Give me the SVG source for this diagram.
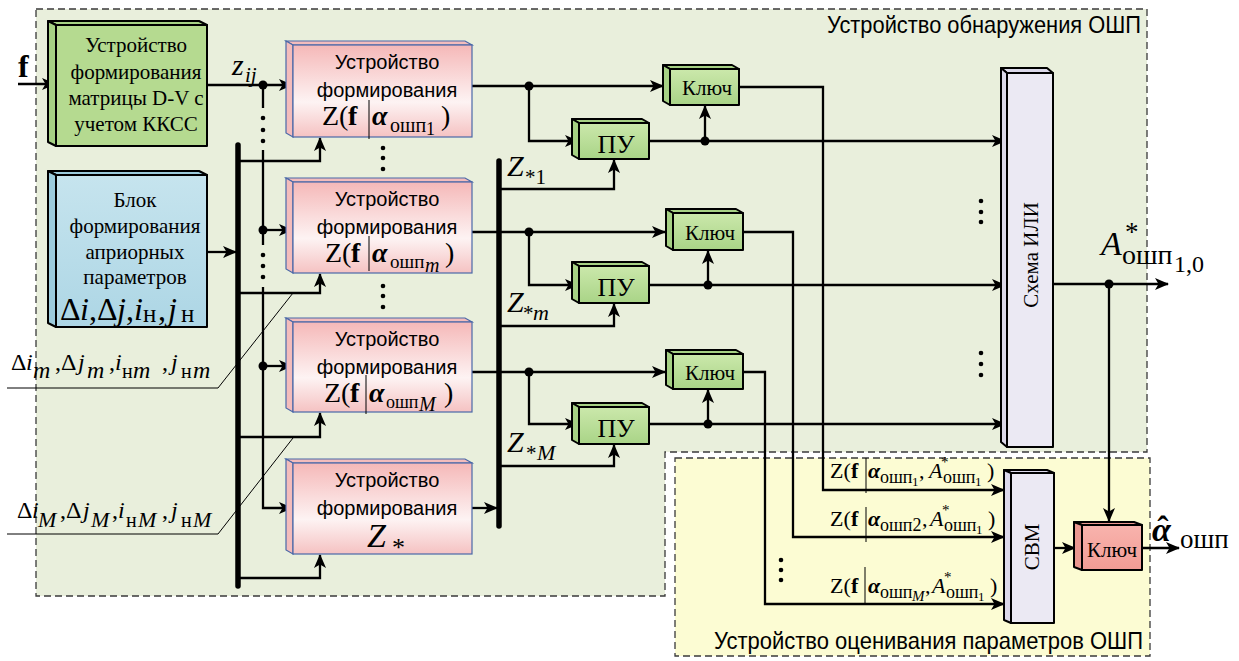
<svg xmlns="http://www.w3.org/2000/svg" width="1239" height="661" viewBox="0 0 1239 661">
<defs>
<style>
.s{font-family:"Liberation Serif","Times New Roman",serif;fill:#000}
.a{font-family:"Liberation Sans",Arial,sans-serif;fill:#000}
.i{font-style:italic}
.b{font-weight:bold}
.ln{stroke:#000;stroke-width:2.3;fill:none}
.ar{marker-end:url(#ah)}
.bus{stroke:#000;stroke-width:5.5;stroke-linecap:round;fill:none}
.th{stroke:#000;stroke-width:1;fill:none}
.bar{stroke:#000;stroke-width:1}
.dsh{stroke:#3a3a3a;stroke-width:1.3;stroke-dasharray:7 4}
.pk rect,.pk polygon{stroke:#4a68a8;stroke-width:1.2}
.pk rect{fill:url(#gPink)}
.pk polygon{fill:#f3bcbc}
.gk rect,.gk polygon,.bk rect,.bk polygon,.lv rect,.lv polygon,.rk rect,.rk polygon{stroke:#000;stroke-width:2;stroke-linejoin:round}
.gk rect{fill:url(#gGreen)}
.gk polygon{fill:#a6d184}
.bk rect{fill:url(#gBlue)}
.bk polygon{fill:#9ccbdc}
.lv rect{fill:#ebe9f3}
.lv polygon{fill:#dcd9ea}
.rk rect{fill:url(#gRed)}
.rk polygon{fill:#ea9790}
.jd{fill:#000}
.sd{fill:#000}
</style>
<linearGradient id="gPink" x1="0" y1="0" x2="0" y2="1"><stop offset="0" stop-color="#f5b8b8"/><stop offset="0.62" stop-color="#fdf3f3"/><stop offset="1" stop-color="#f5c2c2"/></linearGradient>
<linearGradient id="gGreen" x1="0" y1="0" x2="0" y2="1"><stop offset="0" stop-color="#cbe8ab"/><stop offset="1" stop-color="#a9d487"/></linearGradient>
<linearGradient id="gBlue" x1="0" y1="0" x2="0" y2="1"><stop offset="0" stop-color="#c6e4ee"/><stop offset="1" stop-color="#add6e5"/></linearGradient>
<linearGradient id="gRed" x1="0" y1="0" x2="0" y2="1"><stop offset="0" stop-color="#f8b3ad"/><stop offset="1" stop-color="#f29c95"/></linearGradient>
<marker id="ah" viewBox="0 0 14 12" refX="13" refY="6" markerWidth="14" markerHeight="12" orient="auto" markerUnits="userSpaceOnUse"><path d="M0,0 L14,6 L0,12 L3.5,6 z" fill="#000"/></marker>
</defs>

<rect width="1239" height="661" fill="#fff"/>

<g id="regions">
<polygon class="dsh" points="36,9 1147,9 1147,452 665,452 665,596 36,596" fill="#e9efdc"/>
<rect class="dsh" x="675" y="458" width="475" height="198" fill="#fcfcd3"/>
<text class="a" x="1141" y="33" font-size="24" text-anchor="end" textLength="314" lengthAdjust="spacingAndGlyphs">Устройство обнаружения ОШП</text>
<text class="a" x="1143" y="649" font-size="24" text-anchor="end" textLength="429" lengthAdjust="spacingAndGlyphs">Устройство оценивания параметров ОШП</text>
</g>

<g id="connectors">
<path class="ln ar" d="M18,84 H55"/>
<path class="ln ar" d="M207,85 H292"/>
<path class="ln" d="M263,85 V108 M263,150 V245"/>
<path class="ln ar" d="M263,230 H292"/>
<path class="ln ar" d="M263,366 H292"/>
<path class="ln ar" d="M263,287 V508 H292"/>
<path class="ln ar" d="M207,252 H236"/>
<path class="bus" d="M238,145 V586"/>
<path class="ln ar" d="M238,161 H320 V138"/>
<path class="ln ar" d="M238,293 H320 V274"/>
<path class="ln ar" d="M238,437 H320 V413"/>
<path class="ln ar" d="M238,578 H320 V555"/>
<path class="ln ar" d="M472,508 H497"/>
<path class="bus" d="M499,161 V526"/>
<path class="ln ar" d="M499,189 H614 V160"/>
<path class="ln ar" d="M499,326 H614 V304"/>
<path class="ln ar" d="M499,466 H614 V445"/>
<path class="ln ar" d="M472,86 H663"/>
<path class="ln ar" d="M472,232 H665"/>
<path class="ln ar" d="M472,372 H665"/>
<path class="ln ar" d="M529,86 V141 H578"/>
<path class="ln ar" d="M529,232 V285 H578"/>
<path class="ln ar" d="M529,372 V424 H578"/>
<path class="ln ar" d="M649,141 H1005"/>
<path class="ln ar" d="M649,285 H1005"/>
<path class="ln ar" d="M649,424 H1005"/>
<path class="ln ar" d="M705,141 V106"/>
<path class="ln ar" d="M708,285 V251"/>
<path class="ln ar" d="M708,424 V390"/>
<path class="ln ar" d="M739,87 H823 V490 H1004"/>
<path class="ln ar" d="M743,232 H793 V537 H1004"/>
<path class="ln ar" d="M743,372 H765 V604 H1004"/>
<path class="ln ar" d="M1053,284 H1168"/>
<path class="ln ar" d="M1109,284 V521"/>
<path class="ln ar" d="M1054,548 H1075"/>
<path class="ln ar" d="M1142,548 H1179"/>
<path class="th" d="M7,388 H218 L293,293"/>
<path class="th" d="M7,534 H218 L293,438"/>
<circle class="jd" cx="263" cy="85" r="4.5"/>
<circle class="jd" cx="263" cy="230" r="4.5"/>
<circle class="jd" cx="263" cy="366" r="4.5"/>
<circle class="jd" cx="529" cy="86" r="4.5"/>
<circle class="jd" cx="529" cy="232" r="4.5"/>
<circle class="jd" cx="529" cy="372" r="4.5"/>
<circle class="jd" cx="705" cy="141" r="4.5"/>
<circle class="jd" cx="708" cy="285" r="4.5"/>
<circle class="jd" cx="708" cy="424" r="4.5"/>
<circle class="jd" cx="1109" cy="284" r="4.5"/>
<g class="sd">
<circle cx="263" cy="118" r="2.3"/><circle cx="263" cy="130" r="2.3"/><circle cx="263" cy="141" r="2.3"/>
<circle cx="263" cy="255" r="2.3"/><circle cx="263" cy="266" r="2.3"/><circle cx="263" cy="277" r="2.3"/>
<circle cx="383" cy="148" r="2.3"/><circle cx="383" cy="158" r="2.3"/><circle cx="383" cy="169" r="2.3"/>
<circle cx="383" cy="286" r="2.3"/><circle cx="383" cy="296" r="2.3"/><circle cx="383" cy="307" r="2.3"/>
<circle cx="981" cy="201" r="2.3"/><circle cx="981" cy="212" r="2.3"/><circle cx="981" cy="222" r="2.3"/>
<circle cx="981" cy="353" r="2.3"/><circle cx="981" cy="364" r="2.3"/><circle cx="981" cy="375" r="2.3"/>
<circle cx="781" cy="560" r="2.3"/><circle cx="781" cy="570" r="2.3"/><circle cx="781" cy="580" r="2.3"/>
</g>
</g>

<g id="labels">
<text class="s b" x="18" y="77" font-size="32">f</text>
<text class="s i"><tspan x="232" y="75" font-size="30">z</tspan><tspan x="245" y="82" font-size="21">ij</tspan></text>
<text class="s i"><tspan x="507" y="176" font-size="30">Z</tspan><tspan x="525" y="184" font-size="21" font-style="normal">*1</tspan></text>
<text class="s i"><tspan x="507" y="312" font-size="30">Z</tspan><tspan x="523" y="320" font-size="21" font-style="normal">*</tspan><tspan x="533" y="320" font-size="22">m</tspan></text>
<text class="s i"><tspan x="507" y="452" font-size="30">Z</tspan><tspan x="526" y="460" font-size="21" font-style="normal">*</tspan><tspan x="537" y="460" font-size="22">M</tspan></text>
<text class="s" font-size="24"><tspan x="11" y="370">Δ</tspan><tspan x="26" class="i">i</tspan><tspan x="33" y="378" class="i" font-size="24">m</tspan><tspan x="55" y="370">,Δ</tspan><tspan x="78" class="i">j</tspan><tspan x="87" y="378" class="i" font-size="24">m</tspan><tspan x="109" y="370">,</tspan><tspan x="115" class="i">i</tspan><tspan x="122" y="378" font-size="20">н</tspan><tspan x="133" y="378" class="i" font-size="24">m</tspan><tspan x="162" y="370">,</tspan><tspan x="171" class="i">j</tspan><tspan x="181" y="378" font-size="20">н</tspan><tspan x="193" y="378" class="i" font-size="24">m</tspan></text>
<text class="s" font-size="24"><tspan x="17" y="518">Δ</tspan><tspan x="32" class="i">i</tspan><tspan x="38" y="527" class="i" font-size="22">M</tspan><tspan x="60" y="518">,Δ</tspan><tspan x="83" class="i">j</tspan><tspan x="91" y="527" class="i" font-size="22">M</tspan><tspan x="112" y="518">,</tspan><tspan x="118" class="i">i</tspan><tspan x="126" y="527" font-size="20">н</tspan><tspan x="138" y="527" class="i" font-size="22">M</tspan><tspan x="162" y="518">,</tspan><tspan x="171" class="i">j</tspan><tspan x="181" y="527" font-size="20">н</tspan><tspan x="193" y="527" class="i" font-size="22">M</tspan></text>
<text class="s" font-size="34"><tspan x="1101" y="255" class="i">A</tspan><tspan x="1125" y="241" font-size="27">*</tspan><tspan x="1122" y="264" font-size="28">ошп</tspan><tspan x="1174" y="272" font-size="24">1,0</tspan></text>
<text class="s b" x="1163" y="540" font-size="34" text-anchor="middle">ˆ</text>
<text class="s" font-size="34"><tspan x="1152" y="541" class="b i">α</tspan><tspan x="1180" y="548" font-size="27">ошп</tspan></text>
<g id="zlabels">
<text class="s" font-size="22"><tspan x="830" y="478">Z(</tspan><tspan x="851" class="b">f</tspan><tspan x="868" class="b i">α</tspan><tspan x="880" y="483" font-size="18">ошп</tspan><tspan x="912" y="486" font-size="13">1</tspan><tspan x="919" y="478">,</tspan><tspan x="929" class="i">A</tspan><tspan x="941" y="467" font-size="15">*</tspan><tspan x="943" y="483" font-size="18">ошп</tspan><tspan x="975" y="486" font-size="13">1</tspan><tspan x="987" y="478">)</tspan></text>
<line class="bar" x1="866" y1="458" x2="866" y2="493"/>
<text class="s" font-size="22"><tspan x="830" y="526">Z(</tspan><tspan x="851" class="b">f</tspan><tspan x="868" class="b i">α</tspan><tspan x="880" y="531" font-size="18">ошп2</tspan><tspan x="922" y="526">,</tspan><tspan x="930" class="i">A</tspan><tspan x="942" y="515" font-size="15">*</tspan><tspan x="944" y="531" font-size="18">ошп</tspan><tspan x="976" y="534" font-size="13">1</tspan><tspan x="988" y="526">)</tspan></text>
<line class="bar" x1="866" y1="507" x2="866" y2="542"/>
<text class="s" font-size="22"><tspan x="830" y="593">Z(</tspan><tspan x="851" class="b">f</tspan><tspan x="868" class="b i">α</tspan><tspan x="880" y="598" font-size="18">ошп</tspan><tspan x="912" y="601" class="i" font-size="15">M</tspan><tspan x="925" y="593">,</tspan><tspan x="932" class="i">A</tspan><tspan x="944" y="582" font-size="15">*</tspan><tspan x="946" y="598" font-size="18">ошп</tspan><tspan x="978" y="601" font-size="13">1</tspan><tspan x="990" y="593">)</tspan></text>
<line class="bar" x1="865" y1="567" x2="865" y2="605"/>
</g>
</g>

<g id="node-matrix" class="gk">
<polygon points="48,21 199,21 207,25 56,25"/><polygon points="48,21 56,25 56,146 48,142"/>
<rect x="56" y="25" width="151" height="121" style="fill:#b5da90"/>
<text class="s" font-size="21" text-anchor="middle"><tspan x="136" y="52">Устройство</tspan><tspan x="136" y="79">формирования</tspan><tspan x="136" y="105">матрицы D-V с</tspan><tspan x="136" y="131">учетом ККСС</tspan></text>
</g>

<g id="node-apriori" class="bk">
<polygon points="48,171 199,171 207,175 56,175"/><polygon points="48,171 56,175 56,327 48,323"/>
<rect x="56" y="175" width="151" height="152"/>
<text class="s" font-size="21" text-anchor="middle"><tspan x="135" y="207">Блок</tspan><tspan x="135" y="233">формирования</tspan><tspan x="135" y="259">априорных</tspan><tspan x="135" y="284">параметров</tspan></text>
<text class="s" font-size="32"><tspan x="60" y="320">Δ</tspan><tspan x="80" class="i">i</tspan><tspan x="89">,Δ</tspan><tspan x="117" class="i">j</tspan><tspan x="126">,</tspan><tspan x="134" class="i">i</tspan><tspan x="143" y="322" font-size="25">н</tspan><tspan x="158" y="320">,</tspan><tspan x="168" class="i">j</tspan><tspan x="181" y="322" font-size="25">н</tspan></text>
</g>

<g id="node-z1" class="pk">
<polygon points="286,41 465,41 472,45 293,45"/><polygon points="286,41 293,45 293,137 286,133"/>
<rect x="293" y="45" width="179" height="92"/>
<text class="a" font-size="20" text-anchor="middle"><tspan x="387" y="69">Устройство</tspan><tspan x="387" y="97">формирования</tspan></text>
<text class="s" font-size="28"><tspan x="322" y="125">Z(</tspan><tspan x="348" class="b">f</tspan><tspan x="372" class="b i">α</tspan><tspan x="390" y="132" font-size="20">ошп</tspan><tspan x="426" y="135" font-size="18">1</tspan><tspan x="441" y="125">)</tspan></text>
<line class="bar" x1="369" y1="100" x2="369" y2="139"/>
</g>

<g id="node-zm" class="pk">
<polygon points="286,178 465,178 472,182 293,182"/><polygon points="286,178 293,182 293,273 286,269"/>
<rect x="293" y="182" width="179" height="91"/>
<text class="a" font-size="20" text-anchor="middle"><tspan x="387" y="206">Устройство</tspan><tspan x="387" y="234">формирования</tspan></text>
<text class="s" font-size="28"><tspan x="325" y="262">Z(</tspan><tspan x="351" class="b">f</tspan><tspan x="372" class="b i">α</tspan><tspan x="390" y="268" font-size="19">ошп</tspan><tspan x="425" y="272" class="i" font-size="20">m</tspan><tspan x="445" y="262">)</tspan></text>
<line class="bar" x1="369" y1="236" x2="369" y2="271"/>
</g>

<g id="node-zM" class="pk">
<polygon points="286,318 465,318 472,322 293,322"/><polygon points="286,318 293,322 293,412 286,408"/>
<rect x="293" y="322" width="179" height="90"/>
<text class="a" font-size="20" text-anchor="middle"><tspan x="387" y="346">Устройство</tspan><tspan x="387" y="374">формирования</tspan></text>
<text class="s" font-size="28"><tspan x="324" y="402">Z(</tspan><tspan x="350" class="b">f</tspan><tspan x="369" class="b i">α</tspan><tspan x="386" y="408" font-size="18">ошп</tspan><tspan x="419" y="411" class="i" font-size="20">M</tspan><tspan x="444" y="402">)</tspan></text>
<line class="bar" x1="366" y1="375" x2="366" y2="414"/>
</g>

<g id="node-zstar" class="pk">
<polygon points="286,459 465,459 472,463 293,463"/><polygon points="286,459 293,463 293,554 286,550"/>
<rect x="293" y="463" width="179" height="91"/>
<text class="a" font-size="20" text-anchor="middle"><tspan x="387" y="487">Устройство</tspan><tspan x="387" y="515">формирования</tspan></text>
<text class="s" font-size="34"><tspan x="367" y="547" class="i">Z</tspan><tspan x="392" y="556" font-size="26">*</tspan></text>
</g>

<g id="node-key1" class="gk">
<polygon points="663,65 732,65 739,69 670,69"/><polygon points="663,65 670,69 670,105 663,101"/>
<rect x="670" y="69" width="69" height="36"/>
<text class="s" x="707" y="95" font-size="21" text-anchor="middle">Ключ</text>
</g>
<g id="node-key2" class="gk">
<polygon points="666,209 736,209 743,213 673,213"/><polygon points="666,209 673,213 673,250 666,246"/>
<rect x="673" y="213" width="70" height="37"/>
<text class="s" x="710" y="240" font-size="21" text-anchor="middle">Ключ</text>
</g>
<g id="node-key3" class="gk">
<polygon points="666,350 736,350 743,354 673,354"/><polygon points="666,350 673,354 673,389 666,385"/>
<rect x="673" y="354" width="70" height="35"/>
<text class="s" x="710" y="380" font-size="21" text-anchor="middle">Ключ</text>
</g>

<g id="node-pu1" class="gk">
<polygon points="572,119 642,119 649,123 579,123"/><polygon points="572,119 579,123 579,159 572,155"/>
<rect x="579" y="123" width="70" height="36"/>
<text class="s" x="616" y="153" font-size="26" text-anchor="middle">ПУ</text>
</g>
<g id="node-pu2" class="gk">
<polygon points="572,262 642,262 649,266 579,266"/><polygon points="572,262 579,266 579,303 572,299"/>
<rect x="579" y="266" width="70" height="37"/>
<text class="s" x="616" y="296" font-size="26" text-anchor="middle">ПУ</text>
</g>
<g id="node-pu3" class="gk">
<polygon points="572,403 642,403 649,407 579,407"/><polygon points="572,403 579,407 579,444 572,440"/>
<rect x="579" y="407" width="70" height="37"/>
<text class="s" x="616" y="437" font-size="26" text-anchor="middle">ПУ</text>
</g>

<g id="node-or" class="lv">
<polygon points="1001,68 1047,68 1053,73 1007,73"/><polygon points="1001,68 1007,73 1007,447 1001,442"/>
<rect x="1007" y="73" width="46" height="374"/>
<text class="s" font-size="21" text-anchor="middle" transform="translate(1038,255) rotate(-90)">Схема ИЛИ</text>
</g>

<g id="node-svm" class="lv">
<polygon points="1004,470 1047,470 1054,473 1011,473"/><polygon points="1004,470 1011,473 1011,623 1004,620"/>
<rect x="1011" y="473" width="43" height="150"/>
<text class="s" font-size="21" text-anchor="middle" transform="translate(1039,547) rotate(-90)">СВМ</text>
</g>

<g id="node-key-out" class="rk">
<polygon points="1074,522 1134,522 1142,525 1082,525"/><polygon points="1074,522 1082,525 1082,570 1074,567"/>
<rect x="1082" y="525" width="60" height="45"/>
<text class="s" x="1112" y="557" font-size="21" text-anchor="middle">Ключ</text>
</g>
</svg>
